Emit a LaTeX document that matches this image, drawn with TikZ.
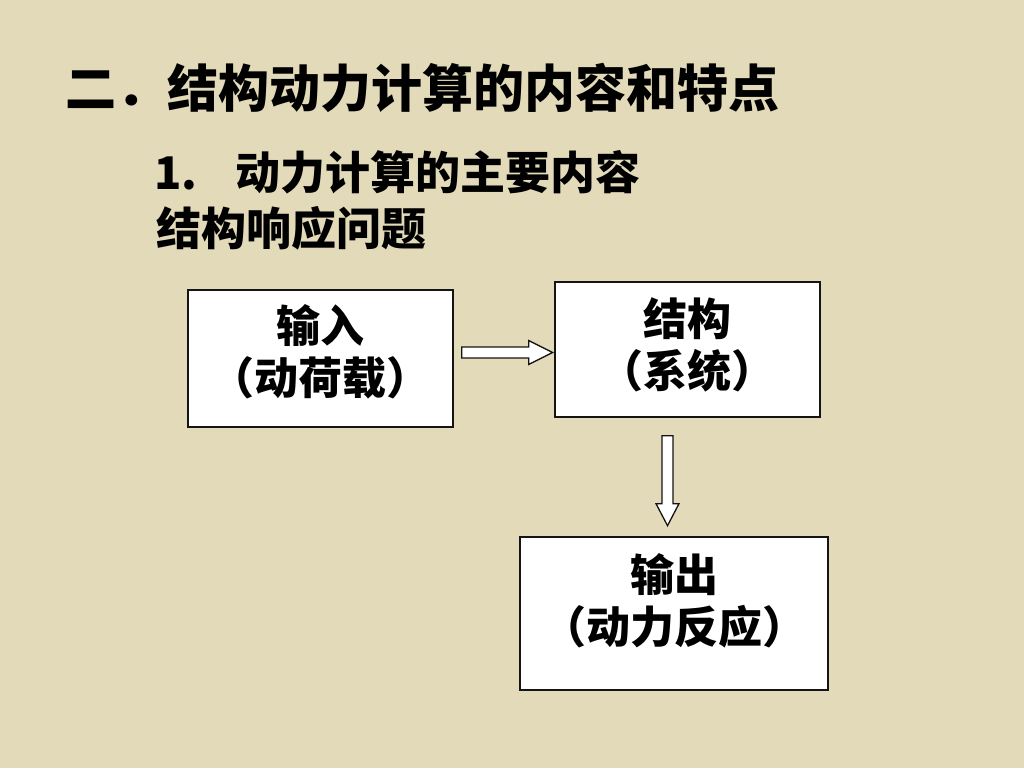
\documentclass[tikz,border=0pt]{standalone}
\usepackage{fontspec}
\setmainfont{Noto Sans CJK SC}
\usepackage{tikz}
\definecolor{slidebg}{RGB}{226,218,184}
\definecolor{boxline}{RGB}{20,20,20}
\tikzset{
  titletext/.style={
    anchor=west,
    inner sep=0pt,
    font=\fontsize{51}{60}\selectfont\bfseries
  },
  subtext/.style={
    anchor=west,
    inner sep=0pt,
    font=\fontsize{45}{54}\selectfont\bfseries
  },
  flowbox/.style={
    rectangle,
    draw=boxline,
    fill=white,
    line width=1.3pt,
    inner sep=0pt
  },
  boxtext/.style={
    align=center,
    inner sep=0pt,
    font=\fontsize{44}{52}\selectfont\bfseries
  },
  blockarrow/.style={
    draw=boxline,
    fill=white,
    line width=1.3pt,
    line join=miter
  }
}

\begin{document}
\begin{tikzpicture}[x=1pt, y=-1pt]
  \fill[slidebg] (0,0) rectangle (1024,768);
  \useasboundingbox (0,0) rectangle (1024,768);

  % headings
  \node[titletext] (title) at (65,88) {二．结构动力计算的内容和特点};
  \node[subtext] (item) at (154,172) {1.\hspace{38pt}动力计算的主要内容};
  \node[subtext] (resp) at (156,228) {结构响应问题};

  % boxes
  \node[flowbox, minimum width=265pt, minimum height=137pt] (inbox) at (320.5,358.5) {};
  \node[flowbox, minimum width=265pt, minimum height=135pt] (sysbox) at (687.5,349.5) {};
  \node[flowbox, minimum width=308pt, minimum height=153pt] (outbox) at (674,613.5) {};

  \node[boxtext] (intext) at ([yshift=7pt]inbox.center) {输入\\（动荷载）};
  \node[boxtext] (systext) at ([yshift=5pt]sysbox.center) {结构\\（系统）};
  \node[boxtext] (outtext) at ([yshift=13pt]outbox.center) {输出\\（动力反应）};

  % block arrows
  \coordinate (arrA) at ([xshift=8pt, yshift=6pt]inbox.east);
  \coordinate (arrB) at ([xshift=-20pt, yshift=-18pt]sysbox.south);
  \draw[blockarrow] (arrA) -- ++(0,-5.5) -- ++(67,0) -- ++(0,-6.5) -- ++(24,12)
    -- ++(-24,12) -- ++(0,-6.5) -- ++(-67,0) -- cycle;
  \draw[blockarrow] (arrB) -- ++(5.5,0) -- ++(0,68) -- ++(6,0) -- ++(-11.5,22)
    -- ++(-11.5,-22) -- ++(6,0) -- ++(0,-68) -- cycle;
\end{tikzpicture}
\end{document}
